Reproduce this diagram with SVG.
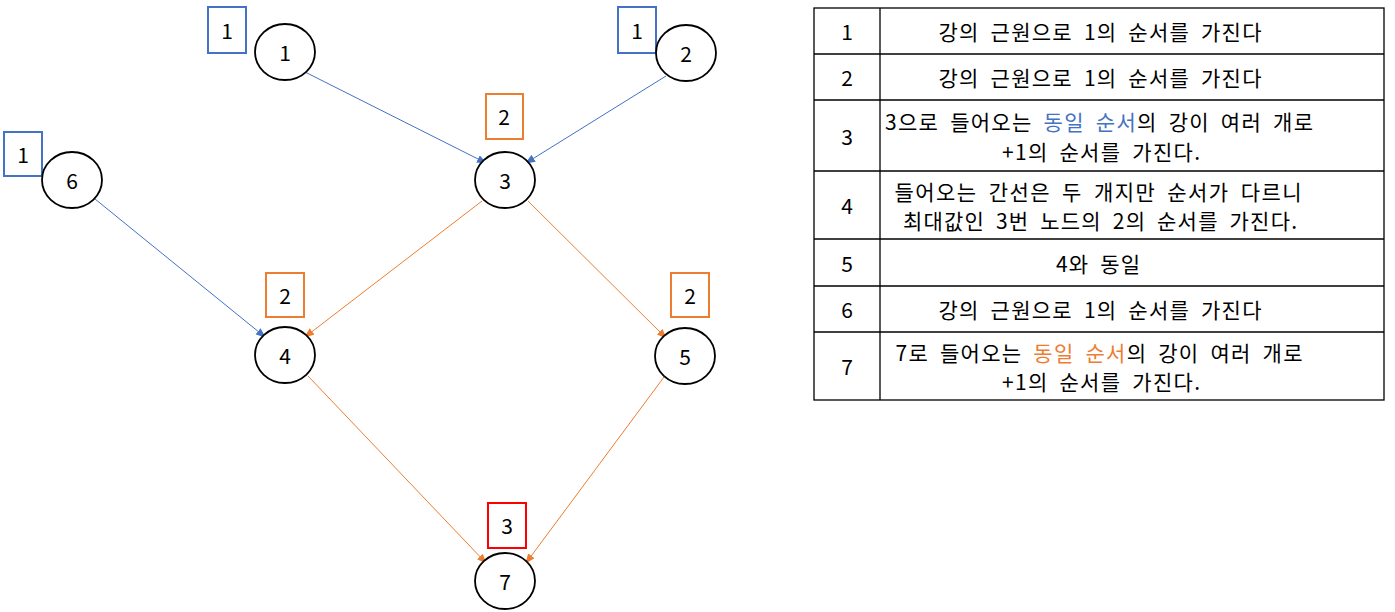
<svg xmlns="http://www.w3.org/2000/svg" width="1395" height="612" viewBox="0 0 1395 612">
<style>
.node ellipse{fill:#fff;stroke:#000;stroke-width:1.8}
.t{font-family:"Noto Sans CJK KR","Noto Sans",sans-serif;font-size:21px;fill:#000;text-anchor:middle;dominant-baseline:central}
.tb{font-family:"Noto Sans CJK KR","Noto Sans",sans-serif;font-size:21px;fill:#000;text-anchor:middle;dominant-baseline:central}
.tw{word-spacing:5px}
.bb{fill:none;stroke:#4472C4;stroke-width:2}
.bo{fill:none;stroke:#ED7D31;stroke-width:2}
.br{fill:none;stroke:#FF0000;stroke-width:2}
.eb{stroke:#4472C4;stroke-width:1;fill:none}
.eo{stroke:#ED7D31;stroke-width:1;fill:none}
.grid line,.grid rect{stroke:#000;stroke-width:1.3;fill:none}
</style>
<defs>
<marker id="ab" markerWidth="10" markerHeight="8" refX="9" refY="4" orient="auto" markerUnits="userSpaceOnUse"><path d="M0,0 L10,4 L0,8 Z" fill="#4472C4"/></marker>
<marker id="ao" markerWidth="10" markerHeight="8" refX="9" refY="4" orient="auto" markerUnits="userSpaceOnUse"><path d="M0,0 L10,4 L0,8 Z" fill="#ED7D31"/></marker>
</defs>
<rect width="1395" height="612" fill="#fff"/>
<g id="connectors">
<line class="eb" x1="305" y1="72" x2="486" y2="163" marker-end="url(#ab)"/>
<line class="eb" x1="666" y1="76" x2="526" y2="163" marker-end="url(#ab)"/>
<line class="eb" x1="95" y1="199" x2="265" y2="337" marker-end="url(#ab)"/>
<line class="eo" x1="482" y1="201" x2="305" y2="337" marker-end="url(#ao)"/>
<line class="eo" x1="528" y1="201" x2="666" y2="338" marker-end="url(#ao)"/>
<line class="eo" x1="308" y1="376" x2="486" y2="563" marker-end="url(#ao)"/>
<line class="eo" x1="664" y1="377" x2="526" y2="563" marker-end="url(#ao)"/>
</g>
<g id="node1" class="node"><rect class="bb" x="208" y="7" width="38" height="46"/><text class="t" x="227" y="30">1</text><ellipse cx="285" cy="52" rx="30" ry="28"/><text class="t" x="285" y="52">1</text></g>
<g id="node2" class="node"><rect class="bb" x="618" y="7" width="38" height="46"/><text class="t" x="637" y="30">1</text><ellipse cx="686" cy="53" rx="30" ry="28"/><text class="t" x="686" y="53">2</text></g>
<g id="node6" class="node"><rect class="bb" x="4" y="132" width="38" height="44"/><text class="t" x="23" y="154">1</text><ellipse cx="72" cy="180" rx="30" ry="28"/><text class="t" x="72" y="180">6</text></g>
<g id="node3" class="node"><rect class="bo" x="486" y="94" width="37" height="45"/><text class="t" x="504" y="116">2</text><ellipse cx="505" cy="180" rx="30" ry="28"/><text class="t" x="505" y="180">3</text></g>
<g id="node4" class="node"><rect class="bo" x="266" y="273" width="38" height="44"/><text class="t" x="285" y="295">2</text><ellipse cx="285" cy="355" rx="30" ry="28"/><text class="t" x="285" y="355">4</text></g>
<g id="node5" class="node"><rect class="bo" x="671" y="273" width="38" height="44"/><text class="t" x="690" y="295">2</text><ellipse cx="685" cy="356" rx="30" ry="28"/><text class="t" x="685" y="356">5</text></g>
<g id="node7" class="node"><rect class="br" x="488" y="503" width="38" height="45"/><text class="t" x="507" y="525">3</text><ellipse cx="505" cy="581" rx="30" ry="28"/><text class="t" x="505" y="581">7</text></g>
<g id="table">
<g class="grid">
<rect x="814" y="8" width="570" height="392"/>
<line x1="880" y1="8" x2="880" y2="400"/>
<line x1="814" y1="54" x2="1384" y2="54"/>
<line x1="814" y1="100" x2="1384" y2="100"/>
<line x1="814" y1="171" x2="1384" y2="171"/>
<line x1="814" y1="239" x2="1384" y2="239"/>
<line x1="814" y1="286" x2="1384" y2="286"/>
<line x1="814" y1="332" x2="1384" y2="332"/>
</g>
<text class="tb" x="847" y="31">1</text>
<text class="tb" x="847" y="77">2</text>
<text class="tb" x="847" y="136">3</text>
<text class="tb" x="847" y="205">4</text>
<text class="tb" x="847" y="263">5</text>
<text class="tb" x="847" y="309">6</text>
<text class="tb" x="847" y="366">7</text>
<text class="tb tw" x="1100" y="31" textLength="323" lengthAdjust="spacing">강의 근원으로 1의 순서를 가진다</text>
<text class="tb tw" x="1100" y="77" textLength="323" lengthAdjust="spacing">강의 근원으로 1의 순서를 가진다</text>
<text class="tb tw" x="1099" y="121" textLength="428" lengthAdjust="spacing">3으로 들어오는 <tspan fill="#4472C4">동일 순서</tspan>의 강이 여러 개로</text>
<text class="tb tw" x="1101" y="151" textLength="198" lengthAdjust="spacing">+1의 순서를 가진다.</text>
<text class="tb tw" x="1098" y="191" textLength="407" lengthAdjust="spacing">들어오는 간선은 두 개지만 순서가 다르니</text>
<text class="tb tw" x="1100" y="220" textLength="394" lengthAdjust="spacing">최대값인 3번 노드의 2의 순서를 가진다.</text>
<text class="tb tw" x="1098" y="263" textLength="84" lengthAdjust="spacing">4와 동일</text>
<text class="tb tw" x="1100" y="309" textLength="323" lengthAdjust="spacing">강의 근원으로 1의 순서를 가진다</text>
<text class="tb tw" x="1099" y="352" textLength="407" lengthAdjust="spacing">7로 들어오는 <tspan fill="#ED7D31">동일 순서</tspan>의 강이 여러 개로</text>
<text class="tb tw" x="1101" y="381" textLength="198" lengthAdjust="spacing">+1의 순서를 가진다.</text>
</g>
</svg>
